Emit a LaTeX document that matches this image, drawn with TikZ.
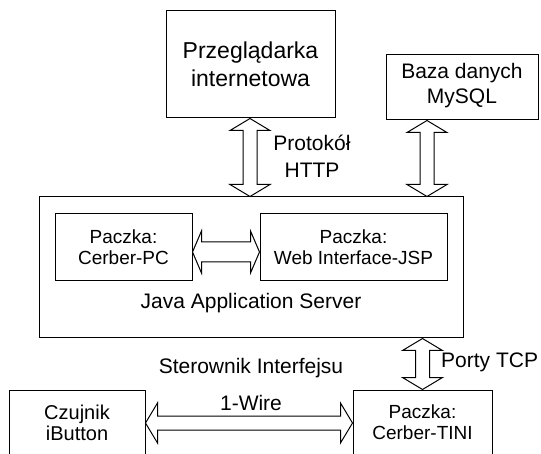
\documentclass[tikz,border=0pt]{standalone}
\usepackage{fontspec}
\setmainfont{Liberation Sans}
\usetikzlibrary{calc}
\tikzset{
  box/.style={draw, line width=1pt, rectangle, inner sep=0pt},
  txt/.style={inner sep=0pt, align=center},
  blk/.style={draw, line width=1pt, fill=white, line join=miter},
}
% vertical double block arrow: #1 top point, #2 bottom point (x taken from #1)
\newcommand{\vdarr}[2]{\draw[blk] let \p1=(#1), \p2=(#2) in
  (\x1,\y1) -- (\x1+20pt,\y1-12pt) -- (\x1+7pt,\y1-12pt) -- (\x1+7pt,\y2+12pt) --
  (\x1+20pt,\y2+12pt) -- (\x1,\y2) -- (\x1-20pt,\y2+12pt) -- (\x1-7pt,\y2+12pt) --
  (\x1-7pt,\y1-12pt) -- (\x1-20pt,\y1-12pt) -- cycle;}
% horizontal double block arrow: #1 left point, #2 right point (y from #1), #3 head length, #4 head half width, #5 shaft half width
\newcommand{\hdarr}[5]{\draw[blk] let \p1=(#1), \p2=(#2) in
  (\x1,\y1) -- (\x1+#3,\y1+#4) -- (\x1+#3,\y1+#5) -- (\x2-#3,\y1+#5) --
  (\x2-#3,\y1+#4) -- (\x2,\y1) -- (\x2-#3,\y1-#4) -- (\x2-#3,\y1-#5) --
  (\x1+#3,\y1-#5) -- (\x1+#3,\y1-#4) -- cycle;}
\begin{document}
\begin{tikzpicture}[x=1pt,y=-1pt]
\useasboundingbox (0,0) rectangle (541,454);
\clip (0,0) rectangle (541,454);
% boxes
\node[box, minimum width=169pt, minimum height=107pt] (brow) at (250.5,64.5) {};
\node[txt, font=\fontsize{23}{28}\selectfont] (browt) at (250.5,64) {Przeglądarka\\internetowa};
\node[box, minimum width=152pt, minimum height=65pt] (db) at (462,87.5) {};
\node[txt, font=\fontsize{21}{25}\selectfont] (dbt) at (462,86) {Baza danych\\MySQL};
\node[box, minimum width=424pt, minimum height=141pt] (jas) at (251,267.5) {};
\node[txt, font=\fontsize{21}{25}\selectfont] (jast) at (251,303) {Java Application Server};
\node[box, minimum width=137pt, minimum height=67pt] (pc) at (123.5,247.5) {};
\node[txt, font=\fontsize{19}{21}\selectfont] (pct) at (123.5,247.5) {Paczka:\\Cerber-PC};
\node[box, minimum width=187pt, minimum height=67pt] (web) at (353.5,247.5) {};
\node[txt, font=\fontsize{19}{21}\selectfont] (webt) at (353.5,247.5) {Paczka:\\Web Interface-JSP};
\node[box, minimum width=136pt, minimum height=65pt] (czu) at (77,422.5) {};
\node[txt, font=\fontsize{20}{21}\selectfont] (czut) at (77,422.5) {Czujnik\\iButton};
\node[box, minimum width=139pt, minimum height=65pt] (tini) at (422.5,422.5) {};
\node[txt, font=\fontsize{19}{21}\selectfont] (tinit) at (422.5,422.5) {Paczka:\\Cerber-TINI};
% labels
\node[txt, font=\fontsize{21}{27}\selectfont] (http) at (312,156.5) {Protokół\\HTTP};
\node[txt, font=\fontsize{21}{25}\selectfont, anchor=west] (tcp) at (441,362) {Porty TCP};
\node[txt, font=\fontsize{21}{25}\selectfont] (ster) at (251,368) {Sterownik Interfejsu};
\node[txt, font=\fontsize{21}{25}\selectfont] (wire) at (251,403) {1-Wire};
% arrows
\vdarr{[xshift=-0.5pt]brow.south}{jas.north}
\vdarr{[xshift=-35pt]db.south}{jas.north}
\vdarr{tini.north |- jas.south}{tini.north}
\hdarr{[yshift=-4.5pt]pc.east}{web.west}{9pt}{21pt}{10pt}
\hdarr{[yshift=-0.5pt]czu.east}{tini.west}{12pt}{20pt}{7pt}
\end{tikzpicture}
\end{document}
